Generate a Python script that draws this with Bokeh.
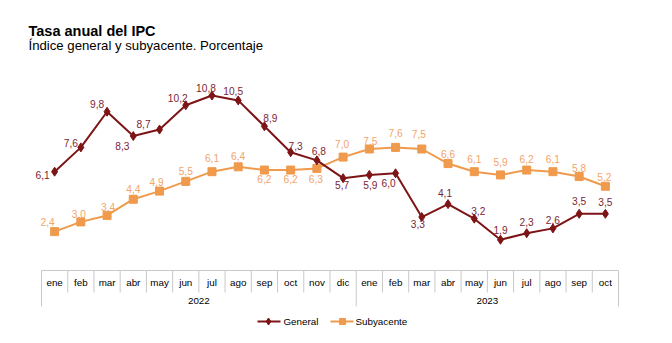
from bokeh.plotting import figure
from bokeh.models import Range1d, ColumnDataSource
from bokeh.embed import file_html
from bokeh.resources import INLINE
from bokeh.core.properties import value

# ---------------- data ----------------
months = ["ene", "feb", "mar", "abr", "may", "jun", "jul", "ago", "sep", "oct", "nov", "dic",
          "ene", "feb", "mar", "abr", "may", "jun", "jul", "ago", "sep", "oct"]
years = ["2022", "2023"]
year_counts = [12, 10]
general = [6.1, 7.6, 9.8, 8.3, 8.7, 10.2, 10.8, 10.5, 8.9, 7.3, 6.8, 5.7,
           5.9, 6.0, 3.3, 4.1, 3.2, 1.9, 2.3, 2.6, 3.5, 3.5]
subyacente = [2.4, 3.0, 3.4, 4.4, 4.9, 5.5, 6.1, 6.4, 6.2, 6.2, 6.3, 7.0,
              7.5, 7.6, 7.5, 6.6, 6.1, 5.9, 6.2, 6.1, 5.8, 5.2]
series_names = ["General", "Subyacente"]
title = "Tasa anual del IPC"
subtitle = "Índice general y subyacente. Porcentaje"

# label offsets (pixels) -- layout only
gen_dx = [-12, -10, -10, -11, -16, -8, -6, -5, 6, 5, 2, -1, 1, -7, -4, -3, 4, 0, 0, 0, 0, 0]
gen_dy = [3, -4, -8, 10, -6, -7, -8, -9, -8, -6, -9, 7, 10, 10, 7, -11, -8, -10, -11, -8, -13, -12]
sub_dx = [-7, -2, 1, 0, -3, 0, 0, 0, 0, 0, -1, -1, 1, 0, -3, 0, 0, 0, 0, 0, 0, -1]
sub_dy = [-10, -8, -8, -10, -9, -10, -14, -11, 9, 9, 11, -13, -8, -14, -15, -10, -13, -13, -11, -13, -9, -9]

# ---------------- layout ----------------
W, H = 672, 343
X0 = 41.0
CELL = 577.0 / len(months)
Y0PIX = 270.0
UNIT = 16.2

x_start = -0.5 - X0 / CELL
x_end = x_start + W / CELL
y_start = -(H - Y0PIX) / UNIT
y_end = Y0PIX / UNIT


def dx(px):
    return x_start + px / CELL


def dy(py):
    return y_end - py / UNIT


FONT = value("Liberation Sans")
GEN_COLOR = "#7D1416"
GEN_LABEL = "#7A2636"
SUB_COLOR = "#EF9A4C"
SUB_LABEL = "#F2A46A"
GRID = "#C9C9C9"

p = figure(width=W, height=H, x_range=Range1d(x_start, x_end), y_range=Range1d(y_start, y_end),
           output_backend="svg", toolbar_location=None, x_axis_type=None, y_axis_type=None,
           min_border=0, outline_line_color=None, background_fill_color="white",
           border_fill_color="white")
p.grid.visible = False

idx = list(range(len(months)))

# title / subtitle
p.text(x=[dx(28)], y=[dy(30)], text=[title], text_font=FONT, text_font_size="14.5px",
       text_font_style="bold", text_color="#000000", text_baseline="middle", text_align="left")
p.text(x=[dx(28)], y=[dy(44.5)], text=[subtitle], text_font=FONT, text_font_size="13.2px",
       text_color="#000000", text_baseline="middle", text_align="left")

# category axis frame
n = len(months)
p.segment(x0=[-0.5], y0=[0], x1=[n - 0.5], y1=[0], line_color=GRID, line_width=1)
inner = [i - 0.5 for i in range(1, n) if i != year_counts[0]]
p.segment(x0=inner, y0=[0] * len(inner), x1=inner, y1=[dy(292)] * len(inner),
          line_color=GRID, line_width=1)
outer = [-0.5, year_counts[0] - 0.5, n - 0.5]
p.segment(x0=outer, y0=[0] * 3, x1=outer, y1=[dy(306)] * 3, line_color=GRID, line_width=1)

p.text(x=idx, y=[dy(282)] * n, text=months, text_font=FONT, text_font_size="9.8px",
       text_color="#000000", text_align="center", text_baseline="middle")
year_x = [(year_counts[0] - 1) / 2, year_counts[0] + (year_counts[1] - 1) / 2]
p.text(x=year_x, y=[dy(300)] * 2, text=years, text_font=FONT, text_font_size="9.8px",
       text_color="#000000", text_align="center", text_baseline="middle")

# series
src = ColumnDataSource(dict(
    x=idx, g=general, s=subyacente,
    gl=[f"{v:.1f}".replace(".", ",") for v in general],
    sl=[f"{v:.1f}".replace(".", ",") for v in subyacente],
    gdx=gen_dx, gdy=gen_dy, sdx=sub_dx, sdy=sub_dy,
))

p.line(x="x", y="s", source=src, line_color=SUB_COLOR, line_width=2)
p.scatter(x="x", y="s", source=src, marker="square", size=8, fill_color=SUB_COLOR,
          line_color=SUB_COLOR)
p.line(x="x", y="g", source=src, line_color=GEN_COLOR, line_width=2)
p.scatter(x="x", y="g", source=src, marker="diamond", size=9, fill_color=GEN_COLOR,
          line_color=GEN_COLOR)

p.text(x="x", y="g", text="gl", source=src, x_offset="gdx", y_offset="gdy", text_font=FONT,
       text_font_size="10.2px", text_color=GEN_LABEL, text_align="center", text_baseline="middle")
p.text(x="x", y="s", text="sl", source=src, x_offset="sdx", y_offset="sdy", text_font=FONT,
       text_font_size="10.2px", text_color=SUB_LABEL, text_align="center", text_baseline="middle")

# legend (drawn manually)
ly = dy(321)
p.line(x=[dx(257), dx(280)], y=[ly, ly], line_color=GEN_COLOR, line_width=2)
p.scatter(x=[dx(268)], y=[ly], marker="diamond", size=7, fill_color=GEN_COLOR, line_color=GEN_COLOR)
p.text(x=[dx(283)], y=[ly], text=[series_names[0]], text_font=FONT, text_font_size="9.8px",
       text_color="#000000", text_align="left", text_baseline="middle")
p.line(x=[dx(330), dx(353)], y=[ly, ly], line_color=SUB_COLOR, line_width=2)
p.scatter(x=[dx(342)], y=[ly], marker="square", size=6, fill_color=SUB_COLOR, line_color=SUB_COLOR)
p.text(x=[dx(355)], y=[ly], text=[series_names[1]], text_font=FONT, text_font_size="9.8px",
       text_color="#000000", text_align="left", text_baseline="middle")

open("out.html", "w").write(file_html(p, INLINE))
